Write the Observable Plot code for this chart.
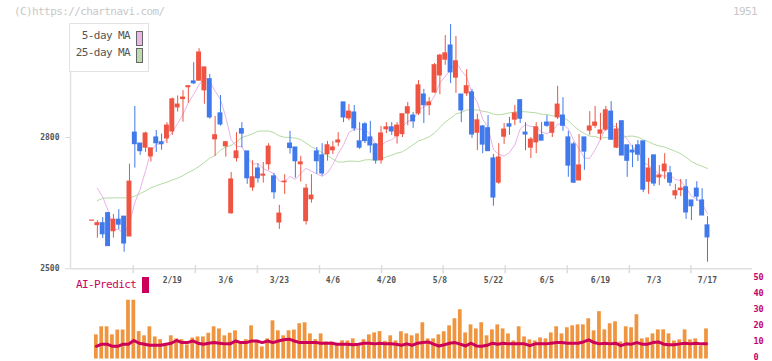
<!DOCTYPE html>
<html>
<head>
<meta charset="utf-8">
<script src="https://cdn.jsdelivr.net/npm/d3@7"></script>
<script src="https://cdn.jsdelivr.net/npm/@observablehq/plot@0.6"></script>
<style>
  html, body { margin: 0; padding: 0; background: #fff; }
  #wrap { position: relative; width: 772px; height: 361px; overflow: hidden; font-family: "DejaVu Sans Mono", monospace; }
  #wrap svg { position: absolute; left: 0; top: 0; }
  .txt { position: absolute; white-space: nowrap; font-family: "DejaVu Sans Mono", monospace; }
  #legend { position: absolute; left: 69px; top: 23px; width: 78px; height: 47px; border: 1.5px solid #e2e2e2; background: #fff; }
  .sw { position: absolute; width: 5px; height: 13px; border: 1px solid #666; }
</style>
</head>
<body>
<div id="wrap">
  <div class="txt" style="left:14px;top:5px;font-size:11px;letter-spacing:-0.6px;color:#c8c8c8;">(C)https://chartnavi.com/</div>
  <div class="txt" style="left:733px;top:5px;font-size:11px;letter-spacing:-0.6px;color:#c8c8c8;">1951</div>
</div>
<script>
// ---- data ----
const dates = ["2/19","3/6","3/23","4/6","4/20","5/8","5/22","6/5","6/19","7/3","7/17"];
const dateIdx = [15,25,35,45,55,65,75,85,95,105,115];
const gridTicks = [7.7,19.3,30.9,42.5,54.1,65.6,77.2,88.8,100.4,111.9];
const priceTicks = [2500, 2800];
const volTicks = [0,10,20,30,40,50];

const open = [2610,2600,2604,2627,2586,2612,2619,2574,2811,2786,2777,2757,2800,2789,2798,2814,2869,2888,2915,2928,
2930,2908,2933,2796,2855,2780,2627,2753,2819,2768,2686,2729,2713,2739,2711,2606,2698,2786,2777,2739,
2609,2659,2768,2759,2762,2771,2789,2880,2844,2857,2791,2830,2800,2784,2748,2819,2823,2803,2808,2855,
2850,2855,2898,2874,2903,2942,2978,3010,2937,2898,2901,2903,2811,2825,2821,2752,2697,2802,2830,2841,
2885,2811,2777,2789,2805,2834,2811,2846,2850,2800,2784,2702,2800,2816,2827,2809,2818,2859,2777,2837,
2782,2770,2782,2791,2699,2759,2709,2723,2718,2668,2680,2686,2656,2683,2656,2599];
const high = [2610,2610,2617,2627,2624,2635,2619,2739,2871,2786,2812,2775,2816,2808,2834,2890,2895,2907,2918,2971,
3003,2960,2944,2848,2896,2791,2720,2811,2834,2768,2747,2740,2743,2786,2718,2645,2715,2814,2777,2757,
2693,2715,2777,2786,2791,2791,2811,2880,2875,2873,2834,2834,2837,2786,2825,2834,2834,2834,2853,2880,
2857,2930,2910,2891,2969,2990,3033,3058,3031,2898,2955,2910,2853,2827,2850,2761,2786,2832,2846,2873,
2887,2834,2800,2834,2834,2850,2834,2917,2891,2814,2789,2807,2800,2859,2871,2855,2871,2882,2832,2837,
2782,2782,2793,2791,2752,2759,2736,2763,2734,2693,2704,2704,2656,2699,2683,2619];
const low = [2610,2570,2569,2552,2570,2589,2538,2574,2730,2759,2766,2744,2766,2771,2786,2805,2858,2835,2878,2921,
2929,2876,2842,2757,2826,2755,2625,2744,2776,2693,2677,2696,2696,2725,2659,2590,2670,2762,2707,2698,
2600,2650,2716,2712,2746,2761,2779,2834,2838,2814,2773,2786,2764,2739,2739,2809,2805,2785,2800,2827,
2821,2850,2832,2850,2901,2898,2965,2923,2901,2834,2894,2798,2770,2763,2769,2643,2693,2784,2805,2827,
2832,2770,2752,2763,2793,2823,2800,2841,2814,2709,2695,2702,2725,2805,2821,2793,2814,2795,2775,2759,
2709,2731,2745,2674,2670,2688,2690,2704,2688,2658,2665,2613,2610,2654,2622,2515];
const close = [2610,2604,2579,2552,2612,2601,2558,2699,2785,2769,2809,2775,2787,2785,2827,2887,2875,2891,2917,2924,
2994,2960,2846,2805,2830,2789,2704,2768,2809,2707,2709,2707,2715,2779,2675,2626,2699,2776,2746,2743,
2683,2667,2746,2718,2782,2777,2793,2846,2859,2821,2777,2792,2782,2748,2809,2823,2814,2827,2853,2869,
2837,2919,2874,2880,2965,2987,2992,2949,2974,2862,2917,2807,2839,2784,2769,2663,2754,2818,2825,2855,
2843,2807,2795,2823,2793,2827,2834,2875,2827,2736,2697,2736,2768,2825,2834,2816,2862,2795,2818,2759,
2747,2766,2761,2681,2729,2695,2713,2738,2697,2677,2683,2629,2643,2665,2622,2572];
const volume = [null,15,20,20,15,18,18,36.5,36.5,17,14.4,20,13.7,12,8.8,14.4,12.5,12,8.8,13,
13.7,13.7,16,20,18.7,14.4,16,17.5,10.6,12,20.6,10.6,7.5,12.5,23.7,17.5,14.4,17.5,18,21.9,
22.5,15.6,12,15.6,10.6,10.6,9.4,11.3,11.2,12.5,8,12,15,16.2,17,11,14.4,11.2,16.9,15.6,
14.4,15.6,22.5,12.5,12.5,15,16.9,20.6,25,30.6,16.2,21.2,18.7,22.5,14.4,18.1,21.2,18.7,15.6,11.2,
20,13.7,11.9,11.2,13.1,12.5,16.2,20,15.6,19.4,20.6,21.2,21.2,25,17.5,29.4,18.1,21.9,23.1,10.6,
20,19.4,27.5,12.5,13.1,15.6,18.1,18.1,15.6,11.2,11.9,18.1,11.9,12.5,8.1,18.7];
const aiPredict = [null,7.9,9.2,9.2,7.9,7.9,9.2,9.2,11.5,9.8,9.2,8.5,8.5,8.5,9.2,9.8,11.5,10.2,10.2,11.2,
9.8,9.2,9.8,10.2,9.8,9.4,9.4,11.2,10.2,10.2,11.2,11.2,10.2,11.2,10.2,11.2,11.9,12.3,11.2,10.2,
10.2,10.2,10.2,9.8,9.8,9.8,9.2,9.2,9.2,8.8,9.2,9.8,9.8,9.4,9.8,9.4,9.4,9.2,8.5,9.4,
8.5,9.8,10.2,10.6,9.2,8.1,8.8,9.8,10.2,9.2,8.1,9.8,8.1,7.9,8.5,9.8,9.2,9.8,9.4,9.4,
9.4,9.4,8.3,9.4,9.4,9.4,9.8,10.2,10.2,9.8,9.8,9.8,10.6,11.9,10.2,9.4,9.8,9.4,9.8,8.3,
9.4,9.2,10.2,9.2,9.2,10.2,10.6,9.2,8.8,8.8,9.4,9.8,9.4,9.8,9.4,9.4];
// moving-average values before a full window is available
const ma5Lead = [null,2684,2664,2633];
const ma25Lead = [null,2656,2661,2662,2662,2662,2662,2662,2666,2672,2678,2685,2690,2694,2698,2703,2707,2713,2720,2726,2734,2743,2753,2759];

// ---- build ----
const RED = "#ef5442", BLUE = "#3f79ec";
const candles = open.map((o, i) => ({i, open: o, high: high[i], low: low[i], close: close[i], up: close[i] >= o}));
const maData = close.map((c, i) => ({
  i,
  ma5: i < 4 ? ma5Lead[i] : d3.mean(close.slice(i - 4, i + 1)),
  ma25: i < 24 ? ma25Lead[i] : d3.mean(close.slice(i - 24, i + 1))
}));
const volData = volume.map((v, i) => ({i, v, ai: aiPredict[i]})).filter(d => d.v != null);
const labelMap = new Map(dateIdx.map((k, j) => [k, dates[j]]));
const xDomain = [-4.02, 123.41];
const col = d => d.up ? RED : BLUE;

const main = Plot.plot({
  width: 772, height: 361,
  marginLeft: 70, marginRight: 20, marginTop: 24, marginBottom: 92.7,
  style: {fontFamily: "DejaVu Sans Mono", fontSize: "8px", background: "transparent", overflow: "visible"},
  x: {domain: xDomain, label: null},
  y: {domain: [2500, 3058.2], label: null},
  marks: [
    Plot.ruleX([xDomain[0]], {stroke: "#e0e0e0", strokeWidth: 1.5}),
    Plot.ruleY([2500], {stroke: "#e0e0e0", strokeWidth: 1.5}),
    Plot.axisY({ticks: priceTicks, tickSize: 5, tickPadding: 6, label: null, tickFormat: d => String(d), stroke: "#dcdcdc", fill: "#555", fontSize: 8, fontWeight: "bold"}),
    Plot.axisX({ticks: gridTicks, tickSize: 8, dy: -3, label: null, tickFormat: () => "", stroke: "#dcdcdc", strokeWidth: 1.5}),
    Plot.axisX({ticks: dateIdx, tickSize: 0, tickPadding: 9, label: null, tickFormat: d => labelMap.get(d), fill: "#555", fontSize: 8, fontWeight: "bold"}),
    Plot.lineY(maData, {x: "i", y: "ma25", stroke: "#b5dba3", strokeWidth: 1}),
    Plot.lineY(maData, {x: "i", y: "ma5", stroke: "#e8b3e8", strokeWidth: 1}),
    Plot.ruleX(candles, {x: "i", y1: "low", y2: "high", stroke: col, strokeWidth: 1}),
    Plot.rect(candles, {x1: d => d.i - 0.46, x2: d => d.i + 0.46, y1: "open", y2: "close", fill: col, insetTop: -0.6, insetBottom: -0.6})
  ]
});

const vol = Plot.plot({
  width: 772, height: 361,
  marginLeft: 70, marginRight: 20, marginTop: 278, marginBottom: 2.5,
  style: {fontFamily: "DejaVu Sans Mono", fontSize: "8px", background: "transparent", overflow: "visible"},
  x: {domain: xDomain, axis: null, label: null},
  y: {domain: [0, 50], label: null},
  marks: [
    Plot.axisY({anchor: "right", ticks: volTicks, tickSize: 0, tickPadding: 1, label: null, dy: -1.5, fill: "#c4006a", fontSize: 8.5, fontWeight: "bold"}),
    Plot.rectY(volData, {x1: d => d.i - 0.35, x2: d => d.i + 0.35, y: "v", fill: "#f0953f", dx: -1}),
    Plot.lineY(volData, {x: "i", y: "ai", stroke: "#cc0058", strokeWidth: 3, dx: -1})
  ]
});

const wrap = document.getElementById("wrap");
wrap.appendChild(main);
wrap.appendChild(vol);

// legends (text as HTML)
const lg = document.createElement("div");
lg.id = "legend";
lg.innerHTML = `
  <div class="txt" style="right:18px;top:5px;font-size:11px;letter-spacing:-0.6px;color:#555;">5-day MA</div>
  <div class="txt" style="right:18px;top:22px;font-size:11px;letter-spacing:-0.6px;color:#555;">25-day MA</div>
  <div class="sw" style="left:66px;top:7px;background:#e8b8e8;"></div>
  <div class="sw" style="left:66px;top:24px;background:#bcdcae;"></div>`;
wrap.appendChild(lg);

const ai = document.createElement("div");
ai.innerHTML = `
  <div class="txt" style="left:76px;top:278px;font-size:11px;letter-spacing:-0.6px;color:#cc0060;">AI-Predict</div>
  <div style="position:absolute;left:142px;top:277px;width:7px;height:16px;background:#cc0058;"></div>`;
wrap.appendChild(ai);
</script>
</body>
</html>
